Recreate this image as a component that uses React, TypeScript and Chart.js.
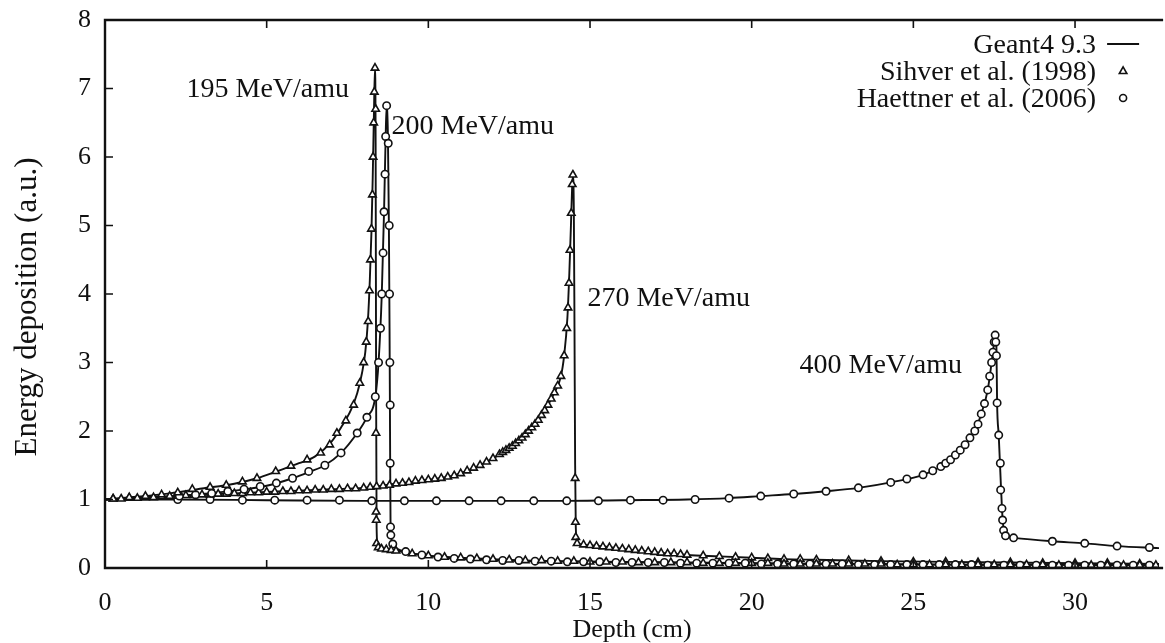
import React, { useEffect, useRef } from "react";
import { Chart, registerables } from "chart.js";

Chart.register(...registerables);

type Pt = [number, number];

// Axis ticks
const depthTicks = [0, 5, 10, 15, 20, 25, 30];
const depositionTicks = [0, 1, 2, 3, 4, 5, 6, 7, 8];

// Axis titles
const depthTitle = "Depth (cm)";
const depositionTitle = "Energy deposition (a.u.)";

// Legend entries
const seriesNames = ["Geant4 9.3", "Sihver et al. (1998)", "Haettner et al. (2006)"];

// Beam energy annotations and their anchor (depth, deposition)
const beamLabels = ["195 MeV/amu", "200 MeV/amu", "270 MeV/amu", "400 MeV/amu"];
const beamLabelAt: Pt[] = [
  [2.52, 6.88],
  [8.86, 6.34],
  [14.92, 3.82],
  [21.48, 2.85],
];

// Geant4 9.3 simulated Bragg curves
const geant195: Pt[] = [
  [0, 1.0], [1, 1.04], [2, 1.09], [3, 1.16], [4, 1.23], [4.7, 1.31], [5.3, 1.41], [6, 1.53],
  [6.5, 1.63], [7, 1.84], [7.3, 2.05], [7.6, 2.3], [7.8, 2.55], [7.95, 2.85], [8.05, 3.15],
  [8.13, 3.6], [8.19, 4.2], [8.24, 4.9], [8.28, 5.7], [8.32, 6.7], [8.35, 7.3], [8.37, 6.2],
  [8.385, 2.5], [8.4, 0.6], [8.43, 0.33], [8.55, 0.28], [8.8, 0.26], [9.0, 0.25], [9.5, 0.21],
  [10, 0.18], [11, 0.15], [12, 0.13], [13, 0.11], [14, 0.1], [16, 0.09], [18, 0.08], [20, 0.07],
  [23, 0.06], [26, 0.05], [29, 0.05], [32.6, 0.04],
];
const geant200: Pt[] = [
  [0, 1.0], [1, 1.02], [2, 1.04], [3, 1.08], [4, 1.13], [5, 1.2], [5.8, 1.31], [6.3, 1.4],
  [6.8, 1.5], [7.3, 1.68], [7.8, 1.97], [8.1, 2.2], [8.36, 2.5], [8.46, 3.0], [8.56, 4.0],
  [8.63, 5.2], [8.68, 6.3], [8.71, 6.75], [8.75, 6.3], [8.78, 5.0], [8.8, 3.5], [8.815, 2.0],
  [8.83, 0.7], [8.86, 0.42], [8.95, 0.32], [9.3, 0.24], [9.8, 0.19], [10.3, 0.16], [11, 0.135],
  [12, 0.115], [13, 0.1], [14, 0.095], [16, 0.085], [18, 0.075], [20, 0.065], [23, 0.055],
  [26, 0.05], [29, 0.045], [32.6, 0.04],
];
const geant270: Pt[] = [
  [0, 1.0], [1, 1.03], [2, 1.05], [3, 1.07], [4, 1.09], [5, 1.11], [6, 1.13], [7, 1.15],
  [8, 1.17], [9, 1.23], [10, 1.29], [10.7, 1.34], [11.2, 1.42], [11.6, 1.5], [12, 1.6],
  [12.5, 1.75], [13, 1.95], [13.3, 2.1], [13.6, 2.3], [13.9, 2.56], [14.1, 2.8], [14.2, 3.1],
  [14.3, 3.65], [14.36, 4.3], [14.41, 5.0], [14.45, 5.6], [14.47, 5.72], [14.5, 5.2],
  [14.52, 3.5], [14.54, 1.5], [14.56, 0.6], [14.6, 0.38], [14.8, 0.34], [15.5, 0.31],
  [16, 0.28], [17, 0.23], [18, 0.19], [19, 0.17], [20, 0.15], [21, 0.13], [22, 0.12],
  [24, 0.1], [26, 0.09], [28, 0.08], [30, 0.07], [32.6, 0.06],
];
const geant400: Pt[] = [
  [0, 1.0], [2, 1.0], [5, 0.99], [8, 0.98], [11, 0.98], [14, 0.98], [16, 0.99], [18, 1.0],
  [19.3, 1.02], [20.3, 1.05], [21.3, 1.08], [22.3, 1.12], [23.3, 1.17], [24.3, 1.25],
  [25.3, 1.36], [26, 1.53], [26.5, 1.75], [26.9, 2.0], [27.1, 2.25], [27.3, 2.6], [27.42, 3.0],
  [27.5, 3.3], [27.54, 3.43], [27.57, 3.2], [27.59, 2.41], [27.64, 1.94], [27.69, 1.4],
  [27.74, 0.87], [27.77, 0.66], [27.8, 0.55], [27.87, 0.47], [28.1, 0.44], [29.3, 0.39],
  [30.3, 0.36], [31.3, 0.32], [32.6, 0.29],
];

// Sihver et al. (1998) measurements
const sihver195: Pt[] = [
  [0.25, 1.01], [0.75, 1.03], [1.25, 1.05], [1.75, 1.07], [2.25, 1.1], [2.7, 1.15], [3.25, 1.18],
  [3.75, 1.21], [4.25, 1.26], [4.7, 1.31], [5.28, 1.41], [5.75, 1.49], [6.25, 1.58], [6.67, 1.68],
  [6.95, 1.8], [7.17, 1.97], [7.45, 2.15], [7.69, 2.38], [7.88, 2.7], [8.0, 3.0], [8.08, 3.3],
  [8.14, 3.6], [8.18, 4.05], [8.21, 4.5], [8.24, 4.95], [8.27, 5.45], [8.29, 6.0], [8.31, 6.5],
  [8.33, 6.95], [8.35, 7.3], [8.37, 6.7], [8.38, 1.97], [8.385, 0.82], [8.39, 0.7], [8.4, 0.36],
  [8.45, 0.3], [8.55, 0.28], [8.7, 0.27], [8.85, 0.26], [9.0, 0.25], [9.5, 0.21], [10.0, 0.18],
  [10.5, 0.16], [11.0, 0.15], [11.5, 0.14], [12.0, 0.13], [12.5, 0.12], [13.0, 0.11], [13.5, 0.11],
  [14.0, 0.1], [14.5, 0.1], [15.0, 0.09], [15.5, 0.09], [16.0, 0.09], [16.5, 0.08], [17.0, 0.08],
  [17.5, 0.08], [18.0, 0.08], [18.5, 0.07], [19.0, 0.07], [19.5, 0.07], [20.0, 0.07], [20.5, 0.07],
  [21.0, 0.06], [21.5, 0.06], [22.0, 0.06], [22.5, 0.06], [23.0, 0.06], [23.5, 0.06], [24.0, 0.06],
  [24.5, 0.05], [25.0, 0.05], [25.5, 0.05], [26.0, 0.05], [26.5, 0.05], [27.0, 0.05], [27.5, 0.05],
  [28.0, 0.05], [28.5, 0.05], [29.0, 0.05], [29.5, 0.04], [30.0, 0.04], [30.5, 0.04], [31.0, 0.04],
  [31.5, 0.04], [32.0, 0.04], [32.5, 0.04],
];
const sihver270: Pt[] = [
  [0.25, 1.01], [0.5, 1.01], [0.75, 1.02], [1.0, 1.02], [1.25, 1.03], [1.5, 1.03], [1.75, 1.04],
  [2.0, 1.05], [2.25, 1.05], [2.5, 1.06], [2.75, 1.06], [3.0, 1.07], [3.25, 1.07], [3.5, 1.08],
  [3.75, 1.08], [4.0, 1.09], [4.25, 1.09], [4.5, 1.1], [4.75, 1.1], [5.0, 1.11], [5.25, 1.11],
  [5.5, 1.12], [5.75, 1.12], [6.0, 1.13], [6.25, 1.13], [6.5, 1.14], [6.75, 1.14], [7.0, 1.15],
  [7.25, 1.15], [7.5, 1.16], [7.75, 1.16], [8.0, 1.17], [8.2, 1.18], [8.4, 1.19], [8.6, 1.2],
  [8.8, 1.21], [9.0, 1.23], [9.2, 1.24], [9.4, 1.25], [9.6, 1.27], [9.8, 1.28], [10.0, 1.29],
  [10.2, 1.3], [10.4, 1.31], [10.6, 1.33], [10.8, 1.35], [11.0, 1.38], [11.2, 1.42], [11.4, 1.46],
  [11.6, 1.5], [11.8, 1.55], [12.0, 1.6], [12.2, 1.66], [12.3, 1.69], [12.4, 1.72], [12.5, 1.75],
  [12.6, 1.78], [12.7, 1.82], [12.8, 1.86], [12.9, 1.9], [13.0, 1.95], [13.1, 2.0], [13.2, 2.05],
  [13.3, 2.1], [13.4, 2.16], [13.5, 2.23], [13.6, 2.3], [13.7, 2.38], [13.8, 2.47], [13.9, 2.56],
  [14.0, 2.66], [14.1, 2.8], [14.2, 3.1], [14.28, 3.5], [14.32, 3.8], [14.35, 4.16], [14.38, 4.64],
  [14.42, 5.18], [14.45, 5.6], [14.47, 5.74], [14.54, 1.31], [14.55, 0.67], [14.56, 0.45],
  [14.6, 0.36], [14.8, 0.34], [15.0, 0.33], [15.2, 0.32], [15.4, 0.31], [15.6, 0.3], [15.8, 0.29],
  [16.0, 0.28], [16.2, 0.27], [16.4, 0.26], [16.6, 0.25], [16.8, 0.24], [17.0, 0.23], [17.2, 0.22],
  [17.4, 0.21], [17.6, 0.21], [17.8, 0.2], [18.0, 0.19], [18.5, 0.18], [19.0, 0.17], [19.5, 0.16],
  [20.0, 0.15], [20.5, 0.14], [21.0, 0.13], [21.5, 0.13], [22.0, 0.12], [23.0, 0.11], [24.0, 0.1],
  [25.0, 0.09], [26.0, 0.09], [27.0, 0.08], [28.0, 0.08], [29.0, 0.07], [30.0, 0.07], [31.0, 0.07],
  [32.0, 0.06],
];

// Haettner et al. (2006) measurements
const haettner200: Pt[] = [
  [2.3, 1.05], [2.8, 1.07], [3.3, 1.09], [3.8, 1.12], [4.3, 1.15], [4.8, 1.19], [5.3, 1.24],
  [5.8, 1.31], [6.3, 1.41], [6.8, 1.5], [7.3, 1.68], [7.8, 1.97], [8.1, 2.2], [8.36, 2.5],
  [8.46, 3.0], [8.52, 3.5], [8.56, 4.0], [8.6, 4.6], [8.63, 5.2], [8.66, 5.75], [8.68, 6.3],
  [8.71, 6.75], [8.76, 6.2], [8.79, 5.0], [8.8, 4.0], [8.81, 3.0], [8.82, 2.38], [8.82, 1.53],
  [8.83, 0.6], [8.84, 0.48], [8.9, 0.35], [9.3, 0.24], [9.8, 0.19], [10.3, 0.16], [10.8, 0.14],
  [11.3, 0.13], [11.8, 0.12], [12.3, 0.11], [12.8, 0.11], [13.3, 0.1], [13.8, 0.1], [14.3, 0.09],
  [14.8, 0.09], [15.3, 0.09], [15.8, 0.08], [16.3, 0.08], [16.8, 0.08], [17.3, 0.08], [17.8, 0.07],
  [18.3, 0.07], [18.8, 0.07], [19.3, 0.07], [19.8, 0.07], [20.3, 0.06], [20.8, 0.06], [21.3, 0.06],
  [21.8, 0.06], [22.3, 0.06], [22.8, 0.06], [23.3, 0.05], [23.8, 0.05], [24.3, 0.05], [24.8, 0.05],
  [25.3, 0.05], [25.8, 0.05], [26.3, 0.05], [26.8, 0.05], [27.3, 0.04], [27.8, 0.04], [28.3, 0.04],
  [28.8, 0.04], [29.3, 0.04], [29.8, 0.04], [30.3, 0.04], [30.8, 0.04], [31.3, 0.04], [31.8, 0.04],
  [32.3, 0.04],
];
const haettner400: Pt[] = [
  [2.25, 1.0], [3.25, 1.0], [4.25, 0.99], [5.25, 0.99], [6.25, 0.99], [7.25, 0.99], [8.25, 0.98],
  [9.26, 0.98], [10.25, 0.98], [11.26, 0.98], [12.25, 0.98], [13.26, 0.98], [14.28, 0.98],
  [15.26, 0.98], [16.25, 0.99], [17.26, 0.99], [18.25, 1.0], [19.3, 1.02], [20.28, 1.05],
  [21.3, 1.08], [22.3, 1.12], [23.3, 1.17], [24.3, 1.25], [24.8, 1.3], [25.3, 1.36], [25.6, 1.42],
  [25.85, 1.48], [26.0, 1.53], [26.15, 1.58], [26.3, 1.65], [26.45, 1.72], [26.6, 1.8],
  [26.75, 1.9], [26.9, 2.0], [27.0, 2.1], [27.1, 2.25], [27.2, 2.4], [27.3, 2.6], [27.36, 2.8],
  [27.42, 3.0], [27.46, 3.15], [27.5, 3.3], [27.53, 3.4], [27.55, 3.3], [27.57, 3.1], [27.59, 2.41],
  [27.64, 1.94], [27.69, 1.53], [27.7, 1.14], [27.74, 0.87], [27.76, 0.7], [27.79, 0.55],
  [27.85, 0.47], [28.1, 0.44], [29.3, 0.39], [30.3, 0.36], [31.3, 0.32], [32.3, 0.3],
];

const INK = "#111111";
const SERIF = "'Liberation Serif', 'Times New Roman', serif";
const TICK_SIZE = 26;
const NOTE_SIZE = 28;
const YTITLE_SIZE = 31;

const toXY = (pts: Pt[]) => pts.map(([x, y]) => ({ x, y }));

const simLine = (pts: Pt[]) => ({
  type: "line" as const,
  label: seriesNames[0],
  data: toXY(pts),
  borderColor: INK,
  borderWidth: 1.9,
  pointRadius: 0,
  cubicInterpolationMode: "monotone" as const,
  fill: false,
  order: 2,
});

const markers = (pts: Pt[], style: "triangle" | "circle", name: string) => ({
  type: "line" as const,
  label: name,
  data: toXY(pts),
  showLine: false,
  pointStyle: style,
  pointRadius: style === "triangle" ? 4.3 : 3.7,
  pointBorderWidth: 1.6,
  pointBorderColor: INK,
  pointBackgroundColor: "#ffffff",
  order: 1,
});

// Plot frame with inward tick marks (left, bottom and top)
const framePlugin = {
  id: "frame",
  afterDatasetsDraw(chart: any) {
    const { ctx, chartArea, scales } = chart;
    const { left, top, right, bottom } = chartArea;
    ctx.save();
    ctx.strokeStyle = INK;
    ctx.lineWidth = 2.4;
    ctx.beginPath();
    ctx.moveTo(right + 4, top);
    ctx.lineTo(left, top);
    ctx.lineTo(left, bottom);
    ctx.lineTo(right + 4, bottom);
    ctx.stroke();
    ctx.lineWidth = 1.6;
    ctx.beginPath();
    depthTicks.forEach((v) => {
      if (v === 0) return;
      const px = scales.x.getPixelForValue(v);
      ctx.moveTo(px, bottom);
      ctx.lineTo(px, bottom - 8);
      ctx.moveTo(px, top);
      ctx.lineTo(px, top + 8);
    });
    depositionTicks.forEach((v) => {
      if (v === 0 || v === 8) return;
      const py = scales.y.getPixelForValue(v);
      ctx.moveTo(left, py);
      ctx.lineTo(left + 8, py);
    });
    ctx.stroke();
    ctx.restore();
  },
};

// Rotated title of the vertical axis, sitting slightly below the axis middle
const depositionTitlePlugin = {
  id: "depositionTitle",
  afterDraw(chart: any) {
    const { ctx, chartArea } = chart;
    const cy = (chartArea.top + chartArea.bottom) / 2 + 13;
    ctx.save();
    ctx.translate(28, cy);
    ctx.rotate(-Math.PI / 2);
    ctx.fillStyle = INK;
    ctx.font = `${YTITLE_SIZE}px ${SERIF}`;
    ctx.textAlign = "center";
    ctx.textBaseline = "middle";
    ctx.fillText(depositionTitle, 0, 0);
    ctx.restore();
  },
};

// Beam energy labels next to each Bragg peak
const energyLabelPlugin = {
  id: "energyLabels",
  afterDatasetsDraw(chart: any) {
    const { ctx, scales } = chart;
    ctx.save();
    ctx.fillStyle = INK;
    ctx.font = `${NOTE_SIZE}px ${SERIF}`;
    ctx.textAlign = "left";
    ctx.textBaseline = "alphabetic";
    beamLabels.forEach((text, i) => {
      const [x, y] = beamLabelAt[i];
      ctx.fillText(text, scales.x.getPixelForValue(x), scales.y.getPixelForValue(y));
    });
    ctx.restore();
  },
};

// Key in the upper right corner: right-aligned names, sample to the right
const keyPlugin = {
  id: "key",
  afterDatasetsDraw(chart: any) {
    const { ctx, chartArea } = chart;
    const textRight = chartArea.right - 63;
    const sampleX = chartArea.right - 36;
    ctx.save();
    ctx.font = `${NOTE_SIZE}px ${SERIF}`;
    ctx.textAlign = "right";
    ctx.textBaseline = "alphabetic";
    seriesNames.forEach((name, i) => {
      const baseline = chartArea.top + 33 + i * 27;
      const midY = baseline - 9;
      ctx.fillStyle = INK;
      ctx.fillText(name, textRight, baseline);
      ctx.strokeStyle = INK;
      if (i === 0) {
        ctx.lineWidth = 2.2;
        ctx.beginPath();
        ctx.moveTo(sampleX - 16, midY);
        ctx.lineTo(sampleX + 16, midY);
        ctx.stroke();
      } else {
        ctx.lineWidth = 1.6;
        ctx.fillStyle = "#ffffff";
        ctx.beginPath();
        if (i === 1) {
          const r = 4.2;
          ctx.moveTo(sampleX, midY - r);
          ctx.lineTo(sampleX + r * 0.9, midY + r * 0.6);
          ctx.lineTo(sampleX - r * 0.9, midY + r * 0.6);
          ctx.closePath();
        } else {
          ctx.arc(sampleX, midY, 3.5, 0, Math.PI * 2);
        }
        ctx.fill();
        ctx.stroke();
      }
    });
    ctx.restore();
  },
};

export default function App() {
  const canvasRef = useRef<HTMLCanvasElement | null>(null);

  useEffect(() => {
    const canvas = canvasRef.current;
    if (!canvas) return;
    const tickFont = { family: SERIF, size: TICK_SIZE };
    const chart = new Chart(canvas, {
      type: "line",
      data: {
        datasets: [
          simLine(geant195),
          simLine(geant200),
          simLine(geant270),
          simLine(geant400),
          markers(sihver195, "triangle", seriesNames[1]),
          markers(haettner200, "circle", seriesNames[2]),
          markers(sihver270, "triangle", seriesNames[1]),
          markers(haettner400, "circle", seriesNames[2]),
        ] as any,
      },
      options: {
        animation: false,
        responsive: false,
        devicePixelRatio: 1,
        layout: { padding: { top: 20, right: 0, left: 0, bottom: 0 } },
        plugins: {
          legend: { display: false },
          tooltip: { enabled: false },
        },
        scales: {
          x: {
            type: "linear",
            min: 0,
            max: 32.6,
            afterBuildTicks: (scale: any) => {
              scale.ticks = depthTicks.map((value) => ({ value }));
            },
            afterFit: (scale: any) => {
              scale.height = 75;
              scale.paddingLeft = 0;
              scale.paddingRight = 0;
            },
            grid: { display: false, drawTicks: false },
            border: { display: false },
            ticks: {
              color: INK,
              font: tickFont,
              padding: 20,
              maxRotation: 0,
              autoSkip: false,
            },
            title: {
              display: true,
              text: depthTitle,
              color: INK,
              font: tickFont,
              padding: { top: 0, bottom: -3 },
            },
          },
          y: {
            type: "linear",
            min: 0,
            max: 8,
            afterBuildTicks: (scale: any) => {
              scale.ticks = depositionTicks.map((value) => ({ value }));
            },
            afterFit: (scale: any) => {
              scale.width = 105;
              scale.paddingTop = 0;
              scale.paddingBottom = 0;
            },
            grid: { display: false, drawTicks: false },
            border: { display: false },
            ticks: {
              color: INK,
              font: tickFont,
              padding: 14,
              autoSkip: false,
            },
            title: { display: false },
          },
        },
      },
      plugins: [framePlugin, energyLabelPlugin, keyPlugin, depositionTitlePlugin],
    });
    return () => chart.destroy();
  }, []);

  return (
    <div style={{ position: "absolute", left: 0, top: 0, width: 1165, height: 643, background: "#fff" }}>
      <canvas ref={canvasRef} width={1165} height={643} />
    </div>
  );
}
